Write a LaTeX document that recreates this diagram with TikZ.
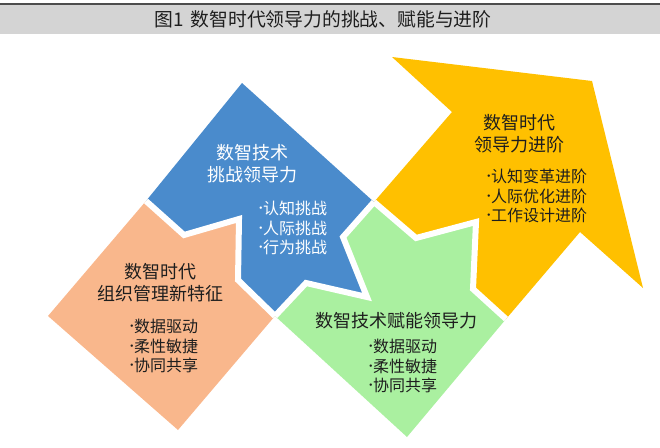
\documentclass[tikz,border=0pt]{standalone}
\usepackage{fontspec}
\newfontfamily\cjk{Noto Sans CJK SC}
\definecolor{cOrange}{HTML}{F9B78C}
\definecolor{cBlue}{HTML}{4A8BCC}
\definecolor{cGreen}{HTML}{AAF0A0}
\definecolor{cYellow}{HTML}{FFC000}
\definecolor{cBar}{HTML}{D4D4D4}
\definecolor{cBarLine}{HTML}{4D4D4D}
\definecolor{cTxt}{HTML}{1E1E1E}
\newcommand\bu{\makebox[8pt][l]{\raisebox{2pt}{\fontsize{11.5}{11.5}\selectfont •}}}
\begin{document}
\begin{tikzpicture}[x=1pt,y=-1pt,
  seamline/.style={draw=white, line width=6pt, line join=miter, line cap=square},
  headtxt/.style={font=\cjk\fontsize{18}{22}\selectfont, align=center, inner sep=0pt, text=cTxt},
  bultxt/.style={font=\cjk\fontsize{16}{19.5}\selectfont, align=left, inner sep=0pt, anchor=west, text=cTxt},
  titletxt/.style={font=\cjk\fontsize{18.8}{20}\selectfont, inner sep=0pt, text=cTxt}]
\useasboundingbox (0,0) rectangle (660,447);
% title bar
\fill[cBar] (0,3) rectangle (660,33.5);
\draw[cBarLine, line width=1.3pt] (0,4) -- (660,4);
\node[titletxt] (title) at (323,19) {图1\hspace{7pt}数智时代领导力的挑战、赋能与进阶};
% key points
\coordinate (S1) at (146,201);
\coordinate (S2) at (275,316);
\coordinate (J) at (374,202);
\coordinate (E) at (506,319);
\coordinate (ob1) at (184,235);
\coordinate (ob2) at (239,219);
\coordinate (ob3) at (238,280);
\coordinate (bg1) at (343,237);
\coordinate (bg2) at (367,297);
\coordinate (bg3) at (306,283);
\coordinate (gy1) at (416,238);
\coordinate (gy2) at (476,222);
\coordinate (gy3) at (473,289);
% shapes
\fill[cOrange] (S1) -- (ob1) -- (ob2) -- (ob3) -- (S2) -- (178,430) -- (48,316) -- cycle;
\fill[cBlue] (S1) -- (242,83) -- (J) -- (bg1) -- (bg2) -- (bg3) -- (S2) -- (ob3) -- (ob2) -- (ob1) -- cycle;
\fill[cGreen] (J) -- (gy1) -- (gy2) -- (gy3) -- (E) -- (407,437) -- (S2) -- (bg3) -- (bg2) -- (bg1) -- cycle;
\fill[cYellow] (J) -- (452,112) -- (392,57) -- (592,81) -- (643,288) -- (580,232) -- (E) -- (gy3) -- (gy2) -- (gy1) -- cycle;
% white seams
\draw[seamline] (S1) -- (ob1) -- (ob2) -- (ob3) -- (S2);
\draw[seamline] (J) -- (bg1) -- (bg2) -- (bg3) -- (S2);
\draw[seamline] (J) -- (gy1) -- (gy2) -- (gy3) -- (E);
% texts
\node[headtxt] (oh) at (160,282.5) {数智时代\\组织管理新特征};
\node[bultxt] (ob) at (126,346) {\bu 数据驱动\\\bu 柔性敏捷\\\bu 协同共享};
\node[headtxt, text=white] (bh) at (252,163.5) {数智技术\\挑战领导力};
\node[bultxt, text=white] (bb) at (255,228) {\bu 认知挑战\\\bu 人际挑战\\\bu 行为挑战};
\node[headtxt] (gh) at (396,321) {数智技术赋能领导力};
\node[bultxt] (gb) at (365,366) {\bu 数据驱动\\\bu 柔性敏捷\\\bu 协同共享};
\node[headtxt] (yh) at (519,134) {数智时代\\领导力进阶};
\node[bultxt] (yb) at (483,196) {\bu 认知变革进阶\\\bu 人际优化进阶\\\bu 工作设计进阶};
\end{tikzpicture}
\end{document}
